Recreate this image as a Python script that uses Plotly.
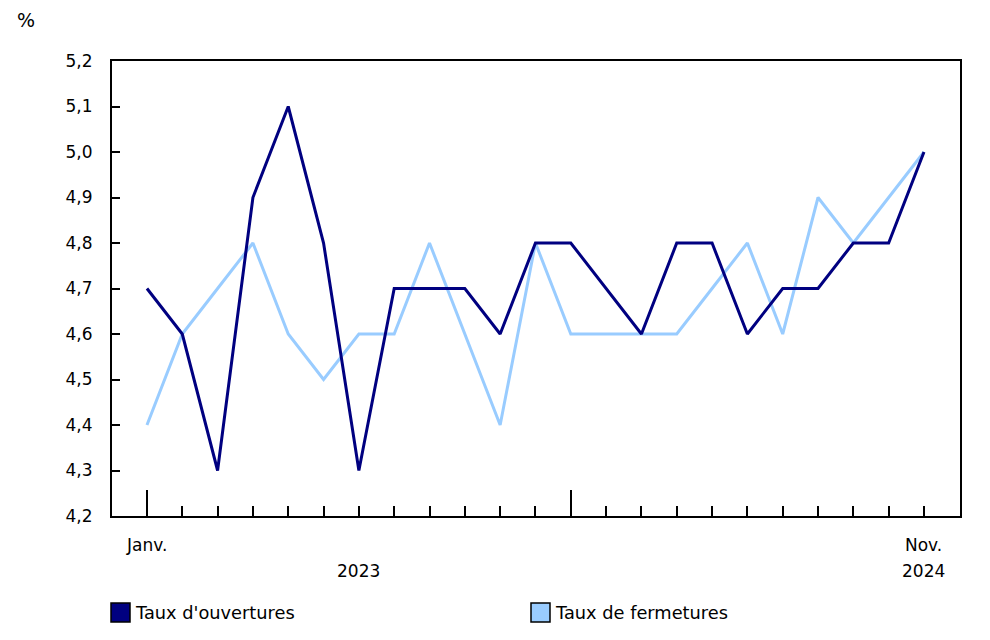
import plotly.graph_objects as go

months = ["Janv. 2023", "Févr. 2023", "Mars 2023", "Avr. 2023", "Mai 2023", "Juin 2023",
          "Juil. 2023", "Août 2023", "Sept. 2023", "Oct. 2023", "Nov. 2023", "Déc. 2023",
          "Janv. 2024", "Févr. 2024", "Mars 2024", "Avr. 2024", "Mai 2024", "Juin 2024",
          "Juil. 2024", "Août 2024", "Sept. 2024", "Oct. 2024", "Nov. 2024"]
ouvertures = [4.7, 4.6, 4.3, 4.9, 5.1, 4.8, 4.3, 4.7, 4.7, 4.7, 4.6, 4.8,
              4.8, 4.7, 4.6, 4.8, 4.8, 4.6, 4.7, 4.7, 4.8, 4.8, 5.0]
fermetures = [4.4, 4.6, 4.7, 4.8, 4.6, 4.5, 4.6, 4.6, 4.8, 4.6, 4.4, 4.8,
              4.6, 4.6, 4.6, 4.6, 4.7, 4.8, 4.6, 4.9, 4.8, 4.9, 5.0]
series_names = ["Taux d'ouvertures", "Taux de fermetures"]
y_ticks = [4.2, 4.3, 4.4, 4.5, 4.6, 4.7, 4.8, 4.9, 5.0, 5.1, 5.2]

DARK = "#000080"
LIGHT = "#99ccff"
FONT = "DejaVu Sans"
FS = 17

idx = list(range(len(months)))

# plot area in page pixels (page has an 8px body offset)
PL, PR, PT, PB = 112, 960, 61, 516
PW, PH = PR - PL, PB - PT


def px(xp):
    return (xp - PL) / PW


def py(yp):
    return (PB - yp) / PH


fig = go.Figure()
fig.add_trace(go.Scatter(x=idx, y=fermetures, mode="lines", name=series_names[1],
                         line=dict(color=LIGHT, width=3), showlegend=False,
                         customdata=months, hovertemplate="%{customdata}: %{y}<extra></extra>"))
fig.add_trace(go.Scatter(x=idx, y=ouvertures, mode="lines", name=series_names[0],
                         line=dict(color=DARK, width=3), showlegend=False,
                         customdata=months, hovertemplate="%{customdata}: %{y}<extra></extra>"))

fig.update_layout(
    width=990, height=640,
    margin=dict(l=PL - 8, r=990 + 8 - PR, t=PT - 8, b=640 + 8 - PB),
    paper_bgcolor="white", plot_bgcolor="white",
    separators=", ",
    font=dict(family=FONT, size=FS, color="black"),
    xaxis=dict(range=[-0.99, 23.02], showgrid=False, zeroline=False,
               showline=True, linecolor="black", linewidth=2, mirror=True,
               tickmode="array", tickvals=[0, 12], ticktext=["", ""],
               ticks="inside", ticklen=26, tickwidth=1.5, tickcolor="black",
               minor=dict(tickmode="linear", tick0=0, dtick=1, ticks="inside",
                          ticklen=10, tickwidth=1.5, tickcolor="black", showgrid=False)),
    yaxis=dict(range=[4.2, 5.2], showgrid=False, zeroline=False,
               showline=True, linecolor="black", linewidth=2, mirror=True,
               tickmode="array", tickvals=y_ticks, tickformat=".1f",
               ticks="inside", ticklen=8, tickwidth=1.5, tickcolor="black",
               ticklabelstandoff=14, tickfont=dict(size=FS, family=FONT)),
)

# axis title "%"
fig.add_annotation(text="%", xref="paper", yref="paper", x=px(15), y=py(20),
                   xanchor="left", yanchor="middle", showarrow=False,
                   font=dict(size=19, family=FONT))
# x labels
for txt, xi, yp in [("Janv.", 0, 545), ("2023", 6, 571), ("Nov.", 22, 545), ("2024", 22, 571)]:
    fig.add_annotation(text=txt, xref="x", yref="paper", x=xi, y=py(yp),
                       showarrow=False, yanchor="middle", font=dict(size=FS, family=FONT))

# legend (manual)
legend_items = [(series_names[0], DARK, 111), (series_names[1], LIGHT, 531)]
for name, col, px0 in legend_items:
    fig.add_shape(type="rect", xref="paper", yref="paper", x0=px(px0), x1=px(px0 + 19),
                  y0=py(622), y1=py(603),
                  fillcolor=col, line=dict(color="black", width=1.5))
    fig.add_annotation(text=name, xref="paper", yref="paper", x=px(px0 + 22),
                       y=py(612), xanchor="left", yanchor="middle",
                       showarrow=False, font=dict(size=17.8, family=FONT))

fig.write_html("out.html")
